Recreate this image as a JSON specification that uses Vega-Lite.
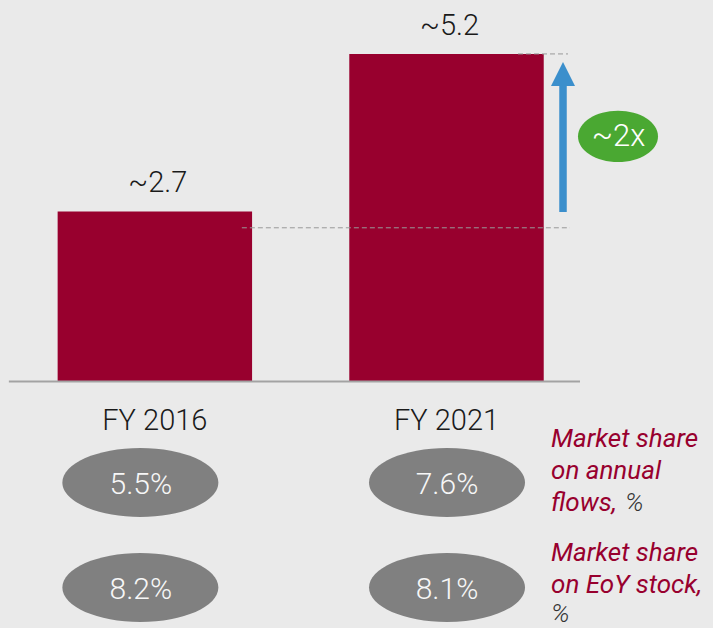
{
  "$schema": "https://vega.github.io/schema/vega-lite/v6.json",
  "width": 713,
  "height": 628,
  "autosize": {"type": "none"},
  "padding": 0,
  "background": "#eaeaea",
  "config": {"view": {"stroke": null}, "font": "Roboto"},
  "datasets": {
    "bars": [
      {"year": "FY 2016", "value": 2.7, "label": "~2.7"},
      {"year": "FY 2021", "value": 5.2, "label": "~5.2"}
    ],
    "shares": [
      {"year": "FY 2016", "metric": "flows", "share": 0.055},
      {"year": "FY 2021", "metric": "flows", "share": 0.076},
      {"year": "FY 2016", "metric": "stock", "share": 0.082},
      {"year": "FY 2021", "metric": "stock", "share": 0.081}
    ],
    "metrics": [
      {"metric": "flows", "label": "Market share|on annual|flows,", "unit": "%"},
      {"metric": "stock", "label": "Market share|on EoY stock,", "unit": "%"}
    ],
    "one": [{}]
  },
  "layer": [
    {
      "layer": [
        {
          "data": {"name": "bars"},
          "mark": {"type": "bar", "color": "#98002e"},
          "encoding": {
            "x": {
              "field": "year", "type": "nominal",
              "scale": {"domain": ["FY 2016", "FY 2021"], "paddingInner": 0.3333, "paddingOuter": 0.389, "align": 0.254},
              "axis": {"title": null, "orient": "bottom", "offset": -246.5, "domain": false, "ticks": false, "grid": false,
                       "labelFont": "Roboto", "labelFontWeight": 300, "labelFontSize": 29, "labelColor": "#1a1a1a",
                       "labelPadding": 24.6, "labelAngle": 0}
            },
            "y": {"field": "value", "type": "quantitative", "scale": {"domain": [-3.913, 6.056], "nice": false}, "axis": null}
          }
        },
        {
          "data": {"name": "bars"},
          "mark": {"type": "text", "font": "Roboto", "fontWeight": 300, "fontSize": 29, "color": "#1a1a1a", "baseline": "alphabetic", "dy": -19, "dx": 3},
          "encoding": {
            "x": {"field": "year", "type": "nominal"},
            "y": {"field": "value", "type": "quantitative", "scale": {"domain": [-3.913, 6.056], "nice": false}},
            "text": {"field": "label"}
          }
        },
        {
          "data": {"name": "one"},
          "mark": {"type": "rule", "color": "#999999", "strokeWidth": 1, "strokeDash": [5, 3], "xOffset": 71.5, "x2Offset": 121.5},
          "encoding": {
            "x": {"datum": "FY 2021", "type": "nominal"},
            "x2": {"datum": "FY 2021"},
            "y": {"datum": 5.2, "type": "quantitative", "scale": {"domain": [-3.913, 6.056], "nice": false}}
          }
        },
        {
          "data": {"name": "one"},
          "mark": {"type": "rule", "color": "#999999", "strokeWidth": 1, "strokeDash": [5, 3], "xOffset": 87, "x2Offset": 123.5},
          "encoding": {
            "x": {"datum": "FY 2016", "type": "nominal"},
            "x2": {"datum": "FY 2021"},
            "y": {"datum": 2.44, "type": "quantitative", "scale": {"domain": [-3.913, 6.056], "nice": false}}
          }
        },
        {
          "data": {"name": "one"},
          "mark": {"type": "rule", "color": "#a3a3a3", "strokeWidth": 2, "xOffset": -146, "x2Offset": 133.5},
          "encoding": {
            "x": {"datum": "FY 2016", "type": "nominal"},
            "x2": {"datum": "FY 2021"},
            "y": {"datum": 0, "type": "quantitative", "scale": {"domain": [-3.913, 6.056], "nice": false}}
          }
        },
        {
          "data": {"name": "one"},
          "mark": {"type": "rule", "color": "#3b8fcc", "strokeWidth": 7.5, "xOffset": 116.5},
          "encoding": {
            "x": {"datum": "FY 2021", "type": "nominal"},
            "y": {"datum": 2.69, "type": "quantitative", "scale": {"domain": [-3.913, 6.056], "nice": false}},
            "y2": {"datum": 4.75}
          }
        },
        {
          "data": {"name": "one"},
          "mark": {"type": "point", "shape": "M-1,1L1,1L0,-1Z", "filled": true, "opacity": 1, "color": "#3b8fcc", "size": 576, "xOffset": 116.5},
          "encoding": {
            "x": {"datum": "FY 2021", "type": "nominal"},
            "y": {"datum": 4.88, "type": "quantitative", "scale": {"domain": [-3.913, 6.056], "nice": false}}
          }
        },
        {
          "data": {"name": "one"},
          "mark": {"type": "point", "shape": "M-1,0A1,0.64,0,1,0,1,0A1,0.64,0,1,0,-1,0Z", "filled": true, "opacity": 1, "color": "#4aa832", "size": 6400, "xOffset": 171.5},
          "encoding": {
            "x": {"datum": "FY 2021", "type": "nominal"},
            "y": {"datum": 3.89, "type": "quantitative", "scale": {"domain": [-3.913, 6.056], "nice": false}}
          }
        },
        {
          "data": {"name": "one"},
          "mark": {"type": "text", "font": "Roboto", "fontWeight": 300, "fontSize": 31, "color": "#ffffff", "baseline": "alphabetic", "dy": 10, "xOffset": 172},
          "encoding": {
            "x": {"datum": "FY 2021", "type": "nominal"},
            "y": {"datum": 3.89, "type": "quantitative", "scale": {"domain": [-3.913, 6.056], "nice": false}},
            "text": {"value": "~2x"}
          }
        }
      ]
    },
    {
      "layer": [
        {
          "data": {"name": "shares"},
          "transform": [{"filter": "datum.year === 'FY 2016'"}],
          "mark": {"type": "point", "shape": "M-1,0A1,0.442,0,1,0,1,0A1,0.442,0,1,0,-1,0Z", "filled": true, "opacity": 1, "color": "#808080", "size": 24336, "xOffset": -14.5},
          "encoding": {
            "x": {"field": "year", "type": "nominal"},
            "y": {"field": "metric", "type": "nominal", "scale": {"domain": ["flows", "stock"], "range": [482.5, 587.5], "padding": 0}, "axis": null}
          }
        },
        {
          "data": {"name": "shares"},
          "transform": [{"filter": "datum.year === 'FY 2021'"}],
          "mark": {"type": "point", "shape": "M-1,0A1,0.442,0,1,0,1,0A1,0.442,0,1,0,-1,0Z", "filled": true, "opacity": 1, "color": "#808080", "size": 24336, "xOffset": 0.5},
          "encoding": {
            "x": {"field": "year", "type": "nominal"},
            "y": {"field": "metric", "type": "nominal"}
          }
        },
        {
          "data": {"name": "shares"},
          "transform": [{"filter": "datum.year === 'FY 2016'"}],
          "mark": {"type": "text", "font": "Roboto", "fontWeight": 300, "fontSize": 30, "color": "#f7f7f7", "baseline": "alphabetic", "dy": 11, "xOffset": -14},
          "encoding": {
            "x": {"field": "year", "type": "nominal"},
            "y": {"field": "metric", "type": "nominal"},
            "text": {"field": "share", "type": "quantitative", "format": ".1%"}
          }
        },
        {
          "data": {"name": "shares"},
          "transform": [{"filter": "datum.year === 'FY 2021'"}],
          "mark": {"type": "text", "font": "Roboto", "fontWeight": 300, "fontSize": 30, "color": "#f7f7f7", "baseline": "alphabetic", "dy": 11, "xOffset": 0.5},
          "encoding": {
            "x": {"field": "year", "type": "nominal"},
            "y": {"field": "metric", "type": "nominal"},
            "text": {"field": "share", "type": "quantitative", "format": ".1%"}
          }
        },
        {
          "data": {"name": "metrics"},
          "transform": [{"filter": "datum.metric === 'flows'"}],
          "mark": {"type": "text", "font": "Roboto", "fontStyle": "italic", "fontSize": 26, "color": "#98002e", "align": "left", "baseline": "alphabetic", "lineBreak": "|", "lineHeight": 32, "dy": -36, "xOffset": 104.5},
          "encoding": {
            "x": {"datum": "FY 2021", "type": "nominal"},
            "y": {"field": "metric", "type": "nominal"},
            "text": {"field": "label"}
          }
        },
        {
          "data": {"name": "metrics"},
          "transform": [{"filter": "datum.metric === 'flows'"}],
          "mark": {"type": "text", "font": "Roboto", "fontStyle": "italic", "fontWeight": 300, "fontSize": 26, "color": "#333333", "align": "left", "baseline": "alphabetic", "dy": 28, "xOffset": 178.5},
          "encoding": {
            "x": {"datum": "FY 2021", "type": "nominal"},
            "y": {"field": "metric", "type": "nominal"},
            "text": {"field": "unit"}
          }
        },
        {
          "data": {"name": "metrics"},
          "transform": [{"filter": "datum.metric === 'stock'"}],
          "mark": {"type": "text", "font": "Roboto", "fontStyle": "italic", "fontSize": 26, "color": "#98002e", "align": "left", "baseline": "alphabetic", "lineBreak": "|", "lineHeight": 32, "dy": -27, "xOffset": 104.5},
          "encoding": {
            "x": {"datum": "FY 2021", "type": "nominal"},
            "y": {"field": "metric", "type": "nominal"},
            "text": {"field": "label"}
          }
        },
        {
          "data": {"name": "metrics"},
          "transform": [{"filter": "datum.metric === 'stock'"}],
          "mark": {"type": "text", "font": "Roboto", "fontStyle": "italic", "fontWeight": 300, "fontSize": 26, "color": "#333333", "align": "left", "baseline": "alphabetic", "dy": 34.5, "xOffset": 104.5},
          "encoding": {
            "x": {"datum": "FY 2021", "type": "nominal"},
            "y": {"field": "metric", "type": "nominal"},
            "text": {"field": "unit"}
          }
        }
      ]
    }
  ],
  "resolve": {"scale": {"y": "independent"}, "axis": {"y": "independent"}}
}
